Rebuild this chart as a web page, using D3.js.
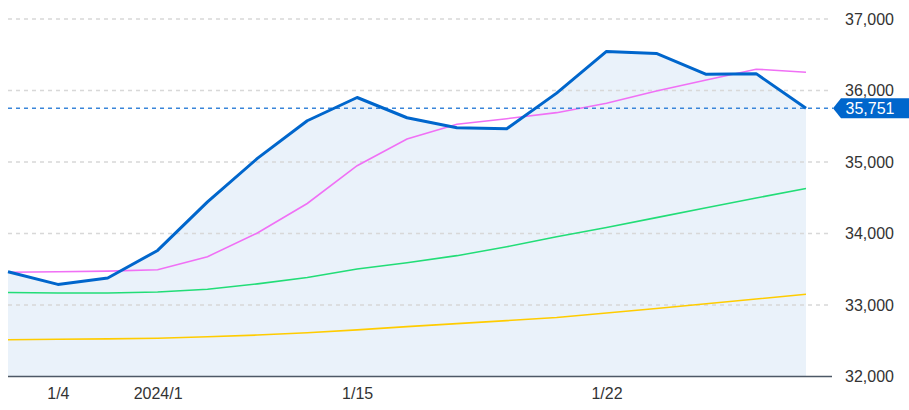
<!DOCTYPE html>
<html>
<head>
<meta charset="utf-8">
<script src="https://cdn.jsdelivr.net/npm/d3@7"></script>
<style>
  html, body { margin: 0; padding: 0; background: #fff; }
  svg { display: block; font-family: "Liberation Sans", Arial, sans-serif; }
</style>
</head>
<body>
<svg id="chart" width="909" height="410"></svg>
<script>
// ---- Data ----
const dates = ["2023/12/29","1/4","1/5","1/9","1/10","1/11","1/12","1/15","1/16","1/17","1/18","1/19","1/22","1/23","1/24","1/25","1/26"];
const closeValues = [33464, 33288, 33377, 33763, 34442, 35050, 35577, 35902, 35619, 35478, 35466, 35963, 36547, 36518, 36226, 36236, 35751];
const ma5 = [33457, 33465, 33474, 33494, 33676, 34007, 34420, 34948, 35322, 35527, 35606, 35690, 35821, 35993, 36147, 36298, 36256];
const ma25 = [33174, 33168, 33168, 33182, 33220, 33296, 33385, 33503, 33592, 33690, 33815, 33955, 34084, 34222, 34360, 34497, 34630];
const ma75 = [32515, 32520, 32526, 32534, 32556, 32580, 32612, 32652, 32697, 32740, 32782, 32825, 32888, 32952, 33018, 33084, 33150];
const xTickIndex = [1, 3, 7, 12];
const xTickLabels = ["1/4", "2024/1", "1/15", "1/22"];
const yTicks = [32000, 33000, 34000, 35000, 36000, 37000];
const lastValue = 35751;

// ---- Layout ----
const svg = d3.select("#chart");
const plotLeft = 8, plotRight = 806, plotTop = 19, plotBottom = 376.5;
const idx = d3.range(dates.length);
const x = d3.scalePoint().domain(idx).range([plotLeft, plotRight]);
const y = d3.scaleLinear().domain([32000, 37000]).range([plotBottom, plotTop]);
const fmt = d3.format(",");

// area
svg.append("path")
  .datum(closeValues)
  .attr("d", d3.area().x((d, i) => x(i)).y0(plotBottom).y1(d => y(d)))
  .attr("fill", "#eaf2fa");

// grid
const gridTicks = yTicks.filter(t => t > 32000);
svg.append("g").selectAll("line").data(gridTicks).join("line")
  .attr("x1", plotLeft).attr("x2", 830)
  .attr("y1", d => y(d)).attr("y2", d => y(d))
  .attr("stroke", "#d8d8d8").attr("stroke-width", 1.5)
  .attr("stroke-dasharray", "4,4");

// bottom axis line
svg.append("line")
  .attr("x1", plotLeft).attr("x2", 832)
  .attr("y1", plotBottom).attr("y2", plotBottom)
  .attr("stroke", "#4d5866").attr("stroke-width", 1.5);

// y labels
svg.append("g").selectAll("text").data(yTicks).join("text")
  .attr("x", 845).attr("y", d => y(d) + 5.6)
  .attr("font-size", 16).attr("fill", "#333")
  .text(d => fmt(d));

// x labels
const xAxis = d3.axisBottom(x).tickValues(xTickIndex)
  .tickFormat(d => xTickLabels[xTickIndex.indexOf(d)]).tickSize(0).tickPadding(0);
const gx = svg.append("g").attr("transform", `translate(0,${plotBottom})`).call(xAxis);
gx.select(".domain").remove();
gx.selectAll("text")
  .attr("font-size", 16).attr("fill", "#333")
  .attr("font-family", "Liberation Sans, Arial, sans-serif")
  .attr("dy", null).attr("y", 22.5);

// lines
const line = d3.line().x((d, i) => x(i)).y(d => y(d));
svg.append("path").datum(ma75).attr("d", line).attr("fill", "none")
  .attr("stroke", "#ffcc00").attr("stroke-width", 1.6);
svg.append("path").datum(ma25).attr("d", line).attr("fill", "none")
  .attr("stroke", "#22dd77").attr("stroke-width", 1.6);
svg.append("path").datum(ma5).attr("d", line).attr("fill", "none")
  .attr("stroke", "#f070f5").attr("stroke-width", 1.6);

// last value dashed line
svg.append("line")
  .attr("x1", plotLeft).attr("x2", 833)
  .attr("y1", y(lastValue)).attr("y2", y(lastValue))
  .attr("stroke", "#3a86d9").attr("stroke-width", 1.5)
  .attr("stroke-dasharray", "4,4");

svg.append("path").datum(closeValues).attr("d", line).attr("fill", "none")
  .attr("stroke", "#0066cc").attr("stroke-width", 3)
  .attr("stroke-linejoin", "round");

// value label
const ly = y(lastValue);
svg.append("path")
  .attr("d", `M833,${ly} L841,${ly - 10} L909,${ly - 10} L909,${ly + 10} L841,${ly + 10} Z`)
  .attr("fill", "#0066cc");
svg.append("text")
  .attr("x", 845.5).attr("y", ly + 5.4)
  .attr("font-size", 16).attr("fill", "#fff")
  .text(fmt(lastValue));
</script>
</body>
</html>
